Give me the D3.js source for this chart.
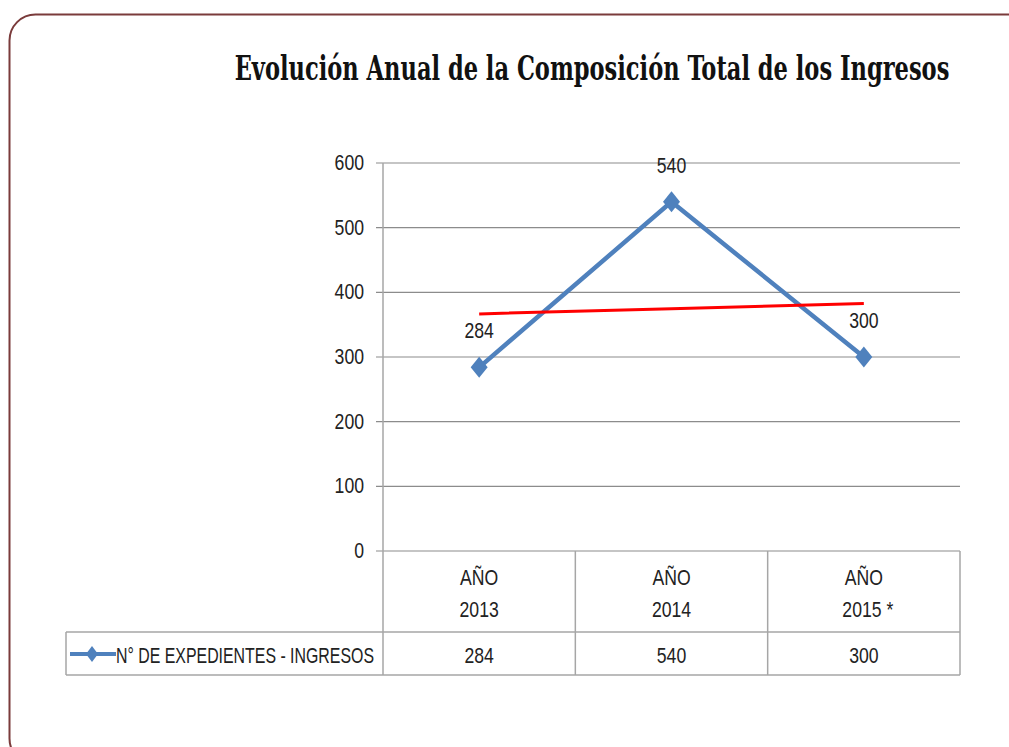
<!DOCTYPE html>
<html><head><meta charset="utf-8">
<script src="https://cdn.jsdelivr.net/npm/d3@7"></script>
<style>body{margin:0;background:#fff;}svg{display:block;}</style>
</head><body>
<svg id="c" width="1009" height="747"></svg>
<script>
const categories = [["AÑO","2013"],["AÑO","2014"],["AÑO","2015 *"]];
const values = [284, 540, 300];
const seriesName = "N° DE EXPEDIENTES - INGRESOS";
const yTicks = [0, 100, 200, 300, 400, 500, 600];
const title = "Evolución Anual de la Composición Total de los Ingresos";

const svg = d3.select("#c");
const font = "'Liberation Sans', Arial, sans-serif";
const SX = 0.82, FS = 21.5;

function ctext(g, x, y, txt, anchor) {
  return g.append("text").attr("transform", `translate(${x},${y}) scale(${SX},1)`)
    .attr("text-anchor", anchor || "middle").attr("font-family", font).attr("font-size", FS)
    .attr("fill", "#222").text(txt);
}
const diamond = (hw, hh) => ({ draw(ctx) { ctx.moveTo(0, -hh); ctx.lineTo(hw, 0); ctx.lineTo(0, hh); ctx.lineTo(-hw, 0); ctx.closePath(); } });

// frame
svg.append("rect").attr("x", 9.5).attr("y", 14.5).attr("width", 1030).attr("height", 750)
  .attr("rx", 26).attr("ry", 26).attr("fill", "none").attr("stroke", "#7a3b3b").attr("stroke-width", 2);

svg.append("text").attr("transform", "translate(592,80) scale(0.76,1)").attr("text-anchor", "middle")
  .attr("font-family", "'DejaVu Serif Condensed', 'DejaVu Serif', serif").attr("font-weight", "bold")
  .attr("font-size", 33).attr("fill", "#111").text(title);

const x = d3.scaleBand().domain(d3.range(categories.length)).range([383, 960]);
const y = d3.scaleLinear().domain([0, 600]).range([551, 163]);

// gridlines
svg.append("g").selectAll("line").data(yTicks).join("line")
  .attr("x1", 376).attr("x2", 960).attr("y1", d => y(d)).attr("y2", d => y(d))
  .attr("stroke", "#8c8c8c").attr("stroke-width", 1.2);
svg.append("line").attr("x1", 383).attr("x2", 383).attr("y1", y(600)).attr("y2", y(0))
  .attr("stroke", "#a6a6a6").attr("stroke-width", 1.5);
const tl = svg.append("g");
yTicks.forEach(d => ctext(tl, 364, y(d) + 7, d, "end"));

// data table
const tg = svg.append("g").attr("stroke", "#a6a6a6").attr("stroke-width", 1.5).attr("fill", "none");
const tTop = 551, tMid = 632, tBot = 675, tLeft = 66;
tg.append("line").attr("x1", tLeft).attr("x2", 960).attr("y1", tMid).attr("y2", tMid);
tg.append("line").attr("x1", tLeft).attr("x2", 960).attr("y1", tBot).attr("y2", tBot);
tg.append("line").attr("x1", tLeft).attr("x2", tLeft).attr("y1", tMid).attr("y2", tBot);
const bounds = [...d3.range(categories.length).map(i => x(i)), 960];
tg.selectAll("line.v").data(bounds).join("line").attr("class", "v")
  .attr("x1", d => d).attr("x2", d => d).attr("y1", tTop).attr("y2", tBot);

const cx = i => x(i) + x.bandwidth() / 2;
const hdr = svg.append("g");
categories.forEach((c, i) => {
  ctext(hdr, cx(i), 585, c[0]);
  ctext(hdr, cx(i) + (c[1].length > 4 ? 4 : 0), 617, c[1]);
  ctext(hdr, cx(i), 663, values[i]);
});

// legend key
svg.append("line").attr("x1", 70).attr("x2", 116).attr("y1", 654).attr("y2", 654)
  .attr("stroke", "#4f81bd").attr("stroke-width", 4);
svg.append("path").attr("d", d3.symbol(diamond(6, 8))()).attr("transform", "translate(92,654)")
  .attr("fill", "#4f81bd");
svg.append("text").attr("x", 116).attr("y", 663).attr("font-family", font).attr("font-size", FS)
  .attr("fill", "#222").attr("textLength", 258).attr("lengthAdjust", "spacingAndGlyphs").text(seriesName);

// series line
const line = d3.line().x((d, i) => cx(i)).y(d => y(d));
svg.append("path").datum(values).attr("d", line).attr("fill", "none")
  .attr("stroke", "#4f81bd").attr("stroke-width", 4.5).attr("stroke-linejoin", "round");
svg.append("g").selectAll("path").data(values).join("path")
  .attr("d", d3.symbol(diamond(8.5, 10.5))())
  .attr("transform", (d, i) => `translate(${cx(i)},${y(d)})`)
  .attr("fill", "#4f81bd");

// linear trendline (least squares over the series)
const n = values.length, xs = d3.range(1, n + 1);
const mx = d3.mean(xs), my = d3.mean(values);
const slope = d3.sum(xs.map((xv, i) => (xv - mx) * (values[i] - my))) / d3.sum(xs.map(xv => (xv - mx) ** 2));
const trend = xs.map(xv => my + slope * (xv - mx));
svg.append("path").datum(trend).attr("d", line).attr("fill", "none")
  .attr("stroke", "#ff0000").attr("stroke-width", 3);

// data labels
const dl = svg.append("g");
values.forEach((d, i) => ctext(dl, cx(i), y(d) - 29, d));
</script>
</body></html>
